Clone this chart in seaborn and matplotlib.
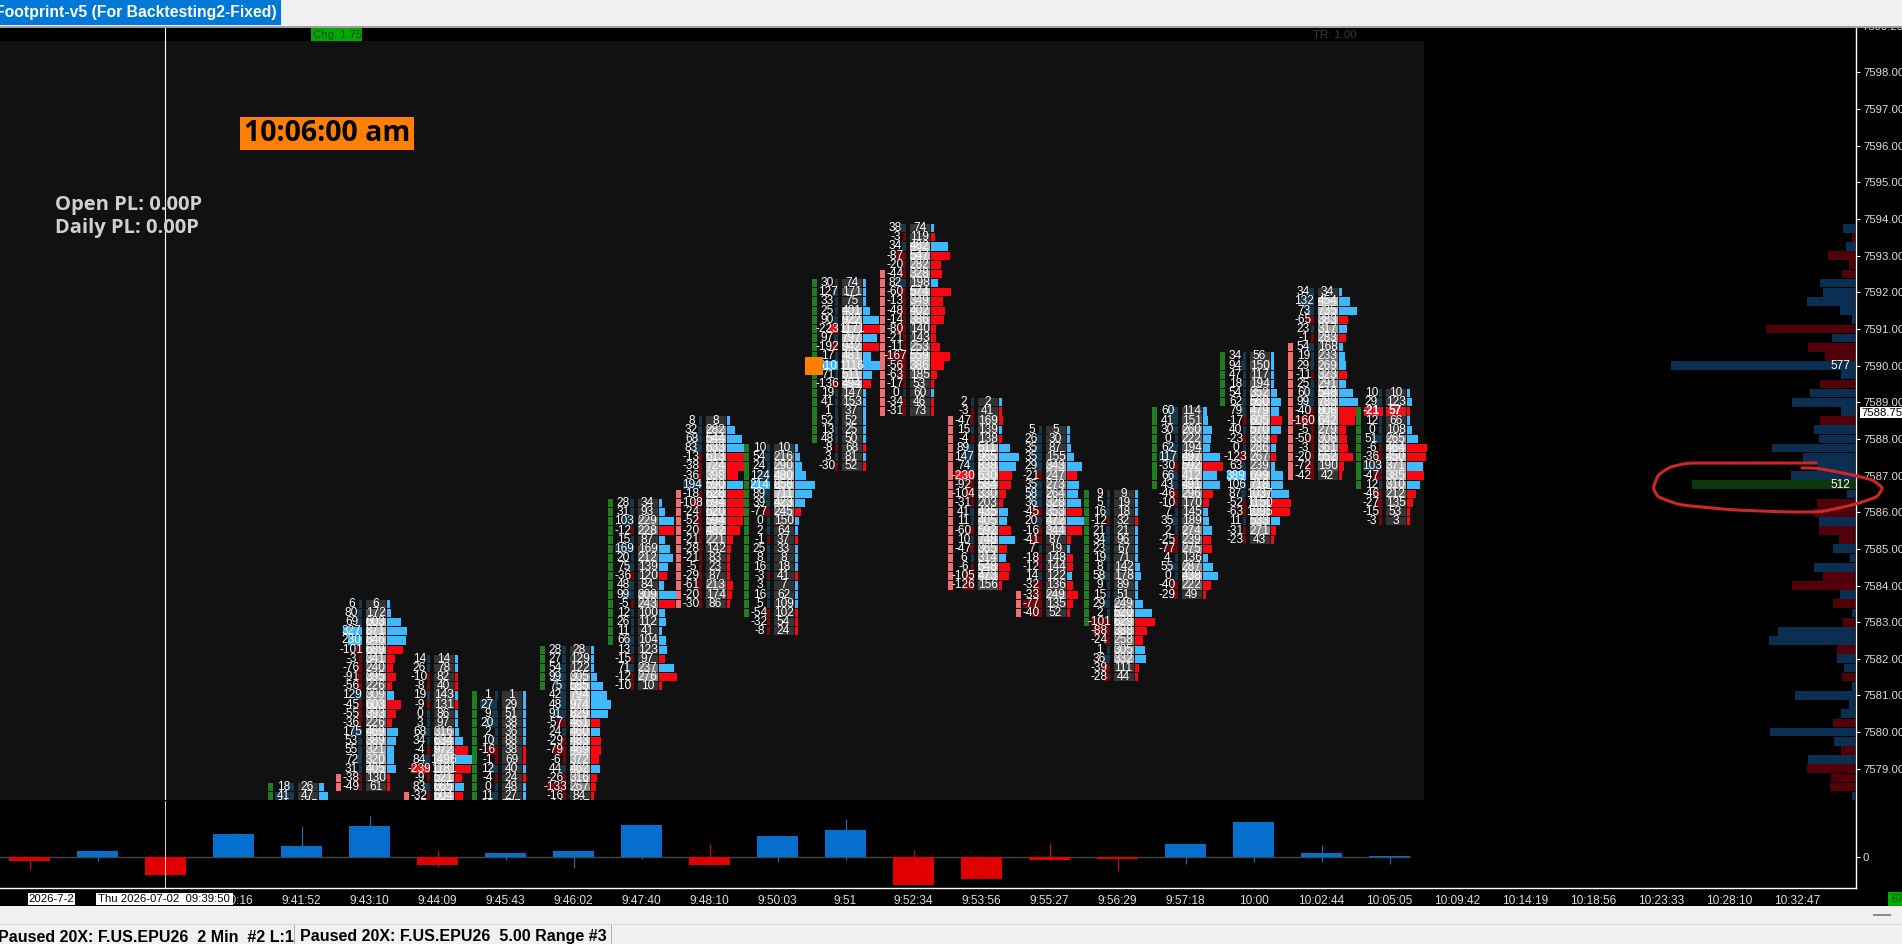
import numpy as np
import pandas as pd
import matplotlib.pyplot as plt
from matplotlib.patches import Rectangle
import seaborn as sns

W, H = 1902, 944
NUM_FONT = ['Liberation Sans', 'DejaVu Sans']

# x axis
time_labels = ['', '', '', '9:40:16', '9:41:52', '9:43:10', '9:44:09', '9:45:43', '9:46:02', '9:47:40',
               '9:48:10', '9:50:03', '9:51', '9:52:34', '9:53:56', '9:55:27', '9:56:29', '9:57:18',
               '10:00', '10:02:44', '10:05:05', '10:09:42', '10:14:19', '10:18:56', '10:23:33',
               '10:28:10', '10:32:47']
price_ticks = [7579, 7580, 7581, 7582, 7583, 7584, 7585, 7586, 7587, 7588, 7589, 7590, 7591, 7592,
               7593, 7594, 7595, 7596, 7597, 7598]

# footprint columns
fp_bars = [4, 5, 6, 7, 8, 9, 10, 11, 12, 13, 14, 15, 16, 17, 18, 19, 20]
fp_top = [7578.5, 7583.5, 7582, 7581, 7582.25, 7586.25, 7588.5, 7587.75, 7592.25, 7593.75, 7589,
          7588.25, 7586.5, 7588.75, 7590.25, 7592, 7589.25]
body_top = [7578.5, 7578.75, 7578.25, 7581, 7582.25, 7586.25, 7586.5, 7587.75, 7592.25, 7592.5,
            7588.5, 7583.75, 7586.5, 7588.75, 7590.25, 7590.5, 7588.75]
body_bot = [7577.5, 7578.5, 7577, 7577, 7581.25, 7582.5, 7583.5, 7583.25, 7588, 7588.75, 7584,
            7583.25, 7583, 7586.75, 7589, 7587, 7586.75]
body_up = [1, 0, 0, 1, 1, 1, 0, 1, 1, 0, 0, 0, 1, 1, 1, 0, 1]
fp_delta = [
    [18, 41, 21],
    [6, 80, 69, 327, 230, -101, -3, -76, -91, -56, 129, -45, -55, -36, 175, 53, 55, 72, 31, -38, -49],
    [14, 26, -10, -8, 19, -9, 0, 3, 68, 34, -4, 84, -239, -9, 83, -32, -25],
    [1, 27, 9, 20, 2, 10, -16, -1, 12, -4, 0, 11, 30],
    [28, 27, 54, 99, 75, 42, 48, 91, -57, 24, -29, -79, -6, 44, -26, -133, -16, -44],
    [28, 31, 103, -12, 15, 169, 20, 75, -36, 48, 99, -5, 12, 26, 11, 66, 13, -15, 71, -12, -10],
    [8, 32, 68, 83, -13, -38, -36, 194, -18, -108, -24, -52, -20, -21, -28, -21, -5, -29, -61, -20, -30],
    [10, 54, 24, 124, 214, 89, 39, -77, 0, 2, -1, 25, 8, 16, -3, 3, 16, 5, -54, -32, -8],
    [30, 127, 33, 25, 90, -223, 97, -192, 17, 510, 71, -136, 19, 41, 1, 52, 13, 48, -8, 3, -30],
    [38, -3, 34, -87, -20, -44, 82, -60, -13, -48, -14, -80, -21, -11, -167, -56, -63, -17, 0, -34, -31],
    [2, -3, -47, 15, -4, 89, 147, 74, -230, -92, -104, -31, 41, 11, -60, 10, -47, 6, -6, -105, -126],
    [5, 26, 35, 35, 29, -21, 35, 58, 36, -45, 20, -16, -41, 7, -18, -12, 14, -32, -33, -77, -40],
    [9, 5, 16, -12, 21, 34, 23, 19, 8, 58, 9, 15, 29, 2, -101, -88, -24, 1, 36, -39, -28],
    [60, 41, 30, 0, 62, 117, -30, 66, 43, -46, -10, 7, 35, 2, -25, -77, 4, 55, 0, -40, -29],
    [34, 94, 47, 18, 54, 62, 79, -17, 40, -23, 0, -123, 63, 389, 106, 87, -52, -63, 11, -31, -23],
    [34, 132, 73, -65, 23, -1, 54, 19, 29, -11, 25, 60, 99, -40, -160, -5, -50, -3, -20, -72, -42],
    [10, 29, -21, 12, 0, 51, -6, -36, 103, -47, 12, -46, -27, -15, -3],
]
fp_vol = [
    [26, 47, 105],
    [6, 172, 603, 871, 846, 689, 341, 240, 395, 226, 309, 603, 393, 226, 469, 389, 321, 320, 405, 130, 61],
    [14, 78, 82, 40, 143, 131, 86, 97, 316, 634, 972, 1496, 1181, 521, 665, 604, 577],
    [1, 29, 51, 38, 36, 88, 38, 69, 40, 24, 48, 27, 777],
    [28, 129, 122, 305, 585, 794, 974, 829, 461, 460, 483, 469, 372, 462, 316, 267, 84, 147],
    [34, 93, 229, 228, 87, 169, 212, 139, 120, 84, 309, 243, 100, 112, 41, 104, 123, 97, 237, 276, 10],
    [8, 282, 544, 633, 613, 724, 398, 590, 628, 694, 620, 594, 482, 221, 142, 83, 23, 87, 213, 174, 86],
    [10, 216, 290, 480, 856, 711, 423, 245, 150, 64, 37, 33, 8, 18, 41, 7, 62, 109, 102, 54, 24],
    [74, 171, 75, 401, 922, 1171, 797, 942, 481, 1116, 511, 494, 147, 153, 37, 52, 25, 50, 68, 81, 52],
    [74, 119, 482, 547, 282, 328, 198, 574, 349, 402, 386, 140, 143, 253, 559, 386, 185, 53, 60, 46, 73],
    [2, 41, 169, 139, 138, 511, 965, 838, 630, 584, 330, 203, 435, 405, 592, 748, 365, 314, 548, 473, 156],
    [5, 30, 87, 155, 343, 247, 273, 264, 328, 353, 472, 344, 87, 19, 148, 144, 122, 136, 249, 135, 52],
    [9, 19, 18, 32, 21, 96, 67, 71, 142, 178, 89, 51, 249, 520, 629, 388, 258, 305, 332, 111, 44],
    [114, 151, 260, 222, 194, 497, 592, 412, 491, 296, 170, 145, 189, 274, 239, 275, 136, 287, 438, 222, 49],
    [56, 150, 117, 194, 352, 560, 479, 605, 570, 339, 286, 267, 239, 699, 718, 1037, 1150, 1095, 533, 271, 43],
    [34, 454, 735, 383, 317, 283, 168, 233, 269, 323, 291, 548, 783, 808, 642, 279, 308, 361, 552, 190, 42],
    [10, 123, 57, 66, 108, 265, 464, 450, 371, 385, 310, 212, 135, 53, 3],
]

# lower pane
delta_close = [-11, 19, -55, 70, 34, 94, -25, 13, 19, 97, -23, 64, 82, -85, -65, -8, -5, 40, 106, 13, 4]
delta_high = [0, 21, 0, 72, 94, 124, 17, 13, 19, 97, 39, 64, 115, 20, 4, 41, 0, 40, 106, 37, 4]
delta_low = [-38, -11, -55, 0, 0, 0, -31, -8, -33, -5, -23, -14, -8, -85, -65, -8, -43, -20, -14, -14, -20]

# volume profile on the right, top row first
profile_top = 7593.75
profile_vol = [37, 8, 29, 84, 18, 42, 110, 99, 149, 47, 8, 279, 71, 146, 93, 577, 43, 110, 141, 198, 43, 110,
               127, 113, 260, 162, 120, 201, 512, 26, 118, 129, 113, 112, 50, 68, 16, 127, 99, 198, 47, 68,
               8, 37, 240, 270, 55, 55, 34, 40, 8, 188, 19, 44, 68, 266, 66, 43, 147, 149, 74, 78, 8]
profile_side = list('brbrrrbbbbbrbrrbbrbbbrbbbbbbgbrrbrrbbbrrbrbrbbrbbrbbbbrbbrbrrrb')

# hand drawn ring round the 512 row, in picture pixels
ring_x = [1835, 1790, 1733, 1687, 1670, 1658, 1653, 1658, 1680, 1733, 1787, 1820, 1853, 1877, 1883, 1873, 1853, 1817, 1791]
ring_y = [463, 463, 463, 463, 467, 475, 488, 497, 505, 510, 512, 512, 505, 497, 488, 480, 475, 468, 468]


def xi(px):
    return (px - 29.5) / 68


def pr(py):
    return 7594 - (py - 219) / 36.65


def rect(x0, y0, x1, y1):
    return [x0 / W, 1 - y1 / H, (x1 - x0) / W, (y1 - y0) / H]


def box(x0, y0, x1, y1, color, z=5):
    fig.add_artist(Rectangle((x0 / W, 1 - y1 / H), (x1 - x0) / W, (y1 - y0) / H, transform=fig.transFigure,
                             facecolor=color, edgecolor='none', zorder=z))


def label(x, y, s, z=6, **kw):
    fig.text(x / W, 1 - y / H, s, va='center', zorder=z, **kw)


sns.set_theme(style='dark')
plt.rcParams['font.family'] = NUM_FONT
plt.rcParams['axes.unicode_minus'] = False
plt.rcParams['patch.linewidth'] = 0
plt.rcParams['patch.edgecolor'] = 'none'

fig = plt.figure(figsize=(W / 100, H / 100), dpi=100, facecolor='black')

# price pane
ax = fig.add_axes(rect(0, 27, 1856, 800), facecolor='black')
ax.set_xlim(xi(0), xi(1856))
ax.set_ylim(pr(800), pr(27))
ax.axvspan(xi(0), xi(1424), ymin=0, ymax=(800 - 41) / (800 - 27), color='#111111', lw=0, zorder=0)

px = 1 / 68
row_h = 0.25 * 0.9
for bar, top, b_top, b_bot, up, deltas, vols in zip(fp_bars, fp_top, body_top, body_bot, body_up, fp_delta, fp_vol):
    prices = top - 0.25 * np.arange(len(deltas))
    deltas = np.array(deltas)
    vols = np.array(vols)
    max_d = np.abs(deltas).max()
    max_v = vols.max()

    # open to close stripe
    body = np.arange(b_bot, b_top + 0.01, 0.25)
    ax.barh(body, 5 * px, left=bar - 34 * px, height=row_h, color='#1f7d1f' if up else '#f36c70',
            linewidth=0, zorder=6)

    # delta cell grows left from the gutter
    d_w = np.maximum(3, np.abs(deltas) / max_d * 19) * px
    d_col = []
    for d in deltas:
        if d >= 0:
            d_col.append('#3db9ff' if d >= 200 else '#18394c')
        else:
            d_col.append('#e8141c' if d <= -200 else '#6e0a0d')
    ax.barh(prices, d_w, left=bar - 8 * px - d_w, height=row_h, color=d_col, linewidth=0, zorder=3)

    # volume cell
    grey = np.interp(vols, [0, 100, 200, 300, 450], [0.2, 0.22, 0.36, 0.62, 0.76])
    ax.barh(prices, 20 * px, left=bar - 4 * px, height=row_h, color=[(g, g, g) for g in grey],
            linewidth=0, zorder=3)

    # per row volume bar
    v_w = np.maximum(3, vols / max_v * 20) * px
    ax.barh(prices, v_w, left=bar + 17.5 * px, height=row_h,
            color=['#3db9ff' if d >= 0 else '#fa0510' for d in deltas], linewidth=0, zorder=4)

    for p, d, v in zip(prices, deltas, vols):
        ax.text(bar - 18 * px, p, str(d), color='white', fontsize=8.6, ha='center', va='center',
                clip_on=True, zorder=7)
        ax.text(bar + 6 * px, p, str(v), color='white', fontsize=8.6, ha='center', va='center',
                clip_on=True, zorder=7)

# the one bright row in the last bar
ax.barh(7588.75, 19 * px, left=20 - 26 * px, height=row_h, color='#e8141c', linewidth=0, zorder=3.5)
ax.barh(7588.75, 20 * px, left=20 - 4 * px, height=row_h, color='#e8141c', linewidth=0, zorder=3.5)
for t in ax.texts:
    if t.get_position()[1] == 7588.75 and t.get_position()[0] > 19.5:
        t.set_fontweight('bold')

# last price marker
ax.barh(7590, 18 * px, left=12 - 41 * px, height=18 / 36.65, color='#ff8000', linewidth=0, zorder=8)

ax.axvline(xi(165), color='white', lw=0.8, zorder=9)

ax.yaxis.tick_right()
ax.set_yticks(price_ticks)
ax.set_yticklabels([f'{p:.2f}' for p in price_ticks], color='#dddddd', fontsize=8.2)
ax.tick_params(axis='y', length=3, width=0.8, color='white', pad=2)
ax.set_xticks([])
for s in ax.spines.values():
    s.set_visible(False)
ax.spines['right'].set_visible(True)
ax.spines['right'].set_color('white')
ax.spines['right'].set_linewidth(1)
ax.text(1.0035, pr(27.5), '7599.25', transform=ax.get_yaxis_transform(), color='#dddddd', fontsize=8.2,
        va='center', clip_on=False)

# profile shares the price scale
ax_p = fig.add_axes(rect(0, 27, 1856, 800), facecolor='none', zorder=2)
prof = pd.DataFrame({'price': profile_top - 0.25 * np.arange(len(profile_vol)), 'vol': profile_vol, 'side': profile_side})
sns.barplot(data=prof, x='vol', y='price', hue='side', orient='y', native_scale=True, dodge=False, width=0.95,
            palette={'b': '#0a2f52', 'r': '#52000a', 'g': '#0c360c'}, saturation=1, legend=False, linewidth=0, ax=ax_p)
ax_p.set_xlim(1855 / 0.319, -1 / 0.319)
ax_p.set_ylim(pr(800), pr(27))
ax_p.axis('off')
ax_p.text(47, 7590, '577', color='white', fontsize=8.6, ha='center', va='center')
ax_p.text(47, 7586.75, '512', color='white', fontsize=8.6, ha='center', va='center')

# lower pane
ax_d = fig.add_axes(rect(0, 801, 1856, 888), facecolor='black')
bars = pd.DataFrame({'bar': np.arange(len(delta_close)), 'close': delta_close})
bars['side'] = np.where(bars['close'] >= 0, 'up', 'down')
ax_d.axhline(0, xmax=(1410) / 1856, color='#444444', lw=1, zorder=1)
sns.barplot(data=bars, x='bar', y='close', hue='side', native_scale=True, dodge=False, width=0.6,
            palette={'up': '#056fce', 'down': '#e00000'}, saturation=1, legend=False, linewidth=0, ax=ax_d, zorder=2)
ax_d.vlines(bars['bar'], delta_low, delta_high, colors=['#056fce' if c >= 0 else '#e00000' for c in delta_close],
            lw=0.8, zorder=1.5)
ax_d.axvline(xi(165), color='white', lw=0.8, alpha=0.8, zorder=3)
ax_d.set_xlim(xi(0), xi(1856))
ax_d.set_ylim(-93, 168)
ax_d.set_xlabel('')
ax_d.set_ylabel('')
ax_d.yaxis.tick_right()
ax_d.set_yticks([0])
ax_d.set_yticklabels(['0'], color='#dddddd', fontsize=8.2)
ax_d.set_xticks(np.arange(len(time_labels)))
ax_d.set_xticklabels(time_labels, color='#dddddd', fontsize=8.6)
ax_d.tick_params(axis='both', length=3, width=0.8, color='white', pad=2)
for s in ax_d.spines.values():
    s.set_visible(False)
for s in ['right', 'bottom']:
    ax_d.spines[s].set_visible(True)
    ax_d.spines[s].set_color('white')
    ax_d.spines[s].set_linewidth(1)

# window chrome
box(0, 0, W, 26, '#f0f0f0')
box(0, 26, W, 27.5, '#a0a0a0')
box(0, 0, 281, 25, '#0078d7')
label(-5, 12.5, 'Footprint-v5 (For Backtesting2-Fixed)', color='white', fontsize=11.35, fontweight='bold',
      family='Liberation Sans')
box(311, 28, 362, 41, '#00a800')
label(313, 35, 'Chg: 1.75', color='#05501a', fontsize=8.2)
label(1313, 35, 'TR: 1.00', color='#3a3a3a', fontsize=8.2)
box(240, 117, 414, 150, '#ff8000')
label(327, 133.5, '10:06:00 am', color='black', fontsize=20.5, fontweight='bold', family='Open Sans', ha='center')
label(55, 205, 'Open PL: 0.00P', color='#d0d0d0', fontsize=14.5, fontweight='bold', family='Open Sans', z=4)
label(55, 228, 'Daily PL: 0.00P', color='#d0d0d0', fontsize=14.5, fontweight='bold', family='Open Sans', z=4)

box(1860, 407, W, 418, 'white')
label(1861, 412.5, '7588.75', color='black', fontsize=8.2)

box(28, 893, 74.5, 905, 'white')
label(51, 899, '2026-7-2', color='black', fontsize=8.2, ha='center')
box(96, 893, 233, 905, 'white')
label(164, 899, 'Thu 2026-07-02  09:39:50', color='black', fontsize=8.2, ha='center')

box(0, 906, W, H, '#f0f0f0')
box(0, 923.5, W, 924.5, '#d8d8d8')
box(294, 925, 295, H, '#b0b0b0')
box(611, 925, 612, H, '#b0b0b0')
box(1873, 914, 1891, 916, '#8c8c8c')
box(1888, 892, W, 906, '#00a800')
label(1891, 899, '67', color='#05501a', fontsize=8.2)
label(-2, 937, 'Paused 20X: F.US.EPU26  2 Min  #2 L:1', color='black', fontsize=11.5, fontweight='bold',
      family='Liberation Sans')
label(300, 937, 'Paused 20X: F.US.EPU26  5.00 Range #3', color='black', fontsize=11.5, fontweight='bold',
      family='Liberation Sans')

# ring
t = np.arange(len(ring_x))
tt = np.linspace(0, t[-1], 300)
sm = np.hanning(15)
sm = sm / sm.sum()
rx = np.convolve(np.interp(tt, t, ring_x), sm, mode='valid')
ry = np.convolve(np.interp(tt, t, ring_y), sm, mode='valid')
ax_r = fig.add_axes([0, 0, 1, 1], facecolor='none', zorder=4)
ax_r.set_xlim(0, W)
ax_r.set_ylim(H, 0)
ax_r.axis('off')
ax_r.plot(rx, ry, color='#cf2626', lw=2.2, solid_capstyle='round')

plt.savefig('out.png', dpi=100, facecolor='black')
